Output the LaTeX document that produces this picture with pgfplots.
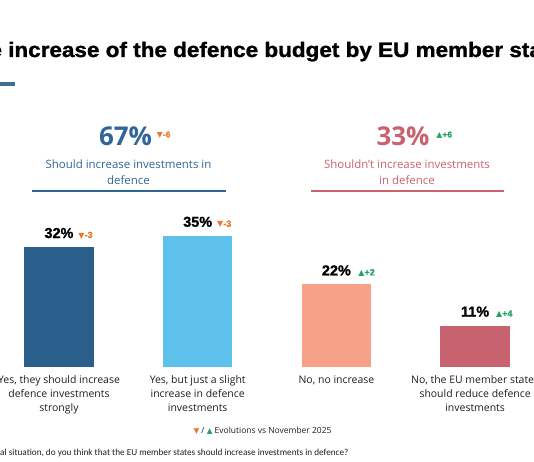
\documentclass[border=0pt]{standalone}
\usepackage{pgfplots}
\pgfplotsset{compat=1.18}
\usepackage{fontspec}
\setmainfont{Open Sans}
\newfontfamily\titlefont{Liberation Sans}[BoldFeatures={FakeBold=1.3}]
\newfontfamily\symf{DejaVu Sans}
\newfontfamily\notefont{Carlito}
\definecolor{bluedark}{HTML}{2A5F8C}
\definecolor{bluelight}{HTML}{5EC1EB}
\definecolor{salmon}{HTML}{F7A088}
\definecolor{rose}{HTML}{C7636F}
\definecolor{hdblue}{HTML}{2F6597}
\definecolor{hdrose}{HTML}{C9626F}
\definecolor{evoor}{HTML}{E8792E}
\definecolor{evogr}{HTML}{23A265}
\definecolor{txt}{HTML}{1E1E1E}
\newcommand\dn[1]{{\color{evoor}{\symf\fontsize{8}{8}\selectfont ▼}{\titlefont\fontsize{9}{9}\selectfont#1}}}
\newcommand\up[1]{{\color{evogr}{\symf\fontsize{8}{8}\selectfont ▲}{\titlefont\fontsize{9}{9}\selectfont#1}}}
\newcommand\smdn[1]{{\color{evoor}{\symf\fontsize{7.8}{7.8}\selectfont ▼}{\titlefont\fontsize{8.5}{8.5}\selectfont#1}}}
\newcommand\smup[1]{{\color{evogr}{\symf\fontsize{7.8}{7.8}\selectfont ▲}{\titlefont\fontsize{8.5}{8.5}\selectfont#1}}}
\newcommand\valfont{\titlefont\bfseries\fontsize{14.5}{15}\selectfont}
\begin{document}
\begin{tikzpicture}
\useasboundingbox (0bp,0bp) rectangle (534bp,462bp);
\clip (0bp,0bp) rectangle (534bp,462bp);
\begin{scope}[x=1bp,y=1bp]
% title
\node[anchor=base west, inner sep=0, xscale=1.075, text=black] at (8,405)
  {\titlefont\bfseries\fontsize{21}{21}\selectfont\llap{Support for the }increase of the defence budget by EU member states};
\fill[bluedark!90] (0,375.5) rectangle (15,379.5);
% headers
\node[anchor=base, inner sep=0, text=hdblue] at (125.5,317) {\bfseries\fontsize{26}{26}\selectfont 67\%\rlap{\hspace{5bp}\raisebox{7.5bp}{\smdn{-6}}}};
\node[anchor=base, inner sep=0, text=hdblue, align=center, font=\fontsize{11.5}{15.7}\selectfont] at (128.5,278) {Should increase investments in\\defence};
\draw[hdblue, line width=1.2bp] (32.3,271) -- (225.7,271);
\node[anchor=base, inner sep=0, text=hdrose] at (403,317) {\bfseries\fontsize{26}{26}\selectfont 33\%\rlap{\hspace{7bp}\raisebox{7.5bp}{\smup{+6}}}};
\node[anchor=base, inner sep=0, text=hdrose, align=center, font=\fontsize{11.5}{15.7}\selectfont] at (407,278) {Shouldn’t increase investments\\in defence};
\draw[hdrose, line width=1.2bp] (311.3,271) -- (504.3,271);
% evolution note
\node[anchor=base, inner sep=0, text=txt, font=\fontsize{8.5}{8.5}\selectfont] at (262.5,29)
  {{\color{evoor}\symf\fontsize{7.5}{7.5}\selectfont ▼} / {\color{evogr}\symf\fontsize{7.5}{7.5}\selectfont ▲} Evolutions vs November 2025};
\node[anchor=base west, inner sep=0, text=txt, font=\notefont\fontsize{9.25}{9.25}\selectfont] at (0,7)
  {\llap{Given the internation}al situation, do you think that the EU member states should increase investments in defence?};
\end{scope}
\begin{axis}[at={(3.5bp,95.3bp)}, anchor=south west, scale only axis,
  width=527.1bp, height=149.6bp,
  xmin=-0.4, xmax=3.4, ymin=0, ymax=40,
  axis line style={draw=none}, major tick length=0pt,
  ytick=\empty, xtick={0,1,2,3},
  xticklabels={{Yes, they should increase\\defence investments\\strongly},
               {Yes, but just a slight\\increase in defence\\investments},
               {No, no increase},
               {No, the EU member states\\should reduce defence\\investments}},
  xticklabel style={align=center, anchor=north, text=txt, font=\fontsize{10.5}{14.2}\selectfont, yshift=-5.3bp},
  ybar, bar width=69.5bp, bar shift=0pt,
  clip=false,
  /pgf/number format/assume math mode=true,
  nodes near coords style={anchor=base, yshift=9bp, text=black, inner sep=0},
]
\addplot[fill=bluedark, draw=none, nodes near coords={\valfont\pgfmathprintnumber{\pgfplotspointmeta}\%\rlap{\hspace{5bp}\dn{-3}}}] coordinates {(0,32)};
\addplot[fill=bluelight, draw=none, nodes near coords={\valfont\pgfmathprintnumber{\pgfplotspointmeta}\%\rlap{\hspace{5bp}\dn{-3}}}] coordinates {(1,35)};
\addplot[fill=salmon, draw=none, nodes near coords={\valfont\pgfmathprintnumber{\pgfplotspointmeta}\%\rlap{\hspace{7.5bp}\up{+2}}}] coordinates {(2,22)};
\addplot[fill=rose, draw=none, nodes near coords={\valfont\pgfmathprintnumber{\pgfplotspointmeta}\%\rlap{\hspace{7bp}\up{+4}}}] coordinates {(3,11)};
\end{axis}
\end{tikzpicture}
\end{document}
